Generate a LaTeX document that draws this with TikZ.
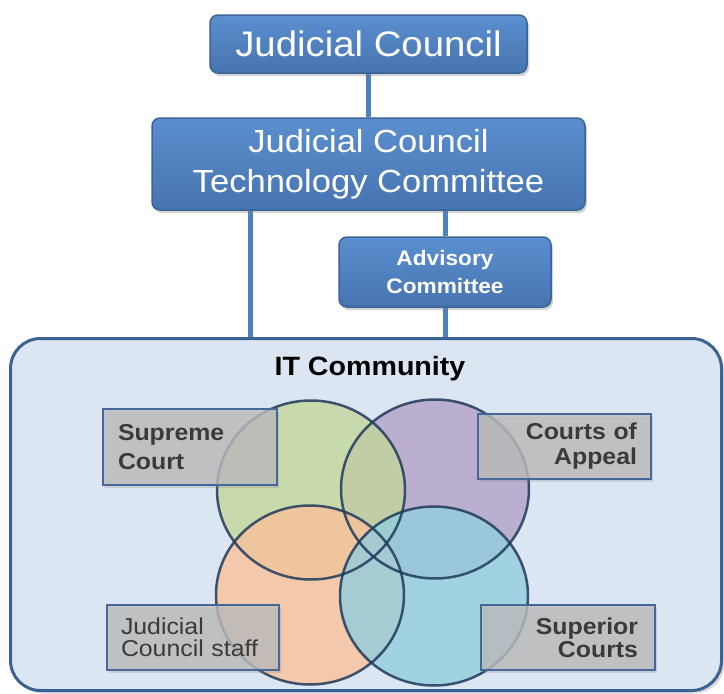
\documentclass[tikz,border=0pt]{standalone}
\usepackage{fontspec}
\setmainfont{Liberation Sans}[FakeStretch=1.08]
\usetikzlibrary{shadows,shapes.geometric}
\pgfdeclarelayer{background}
\pgfsetlayers{background,main}
\definecolor{boxtop}{HTML}{5B8FCF}
\definecolor{boxbot}{HTML}{4674B0}
\definecolor{boxedge}{HTML}{3A6496}
\definecolor{linkblue}{HTML}{4F81BD}
\definecolor{commfill}{HTML}{DCE6F2}
\definecolor{commedge}{HTML}{3A6293}
\definecolor{labfill}{HTML}{BDBDBD}
\definecolor{labedge}{HTML}{46679A}
\definecolor{labtext}{HTML}{3A3A3A}
\definecolor{vgreen}{HTML}{C3D69B}
\definecolor{vpurple}{HTML}{B3A2C7}
\definecolor{vorange}{HTML}{F9C19A}
\definecolor{vcyan}{HTML}{93CDDD}
\definecolor{vedge}{HTML}{1F3A5C}
\begin{document}
\begin{tikzpicture}[x=1pt,y=-1pt,
  mainbox/.style={draw=boxedge, line width=1.5pt, rounded corners=8pt,
    top color=boxtop, bottom color=boxbot, text=white, align=center, inner sep=0pt,
    drop shadow={shadow xshift=2pt, shadow yshift=-3pt, opacity=0.35}},
  link/.style={draw=linkblue, line width=5pt},
  lab/.style={draw=labedge, line width=1.5pt, fill=labfill, fill opacity=0.78, text opacity=1,
    text=labtext, inner sep=0pt, font=\bfseries\fontsize{23}{27}\selectfont,
    drop shadow={shadow xshift=2pt, shadow yshift=-3pt, opacity=0.25}},
  vshape/.style={ellipse, minimum width=188pt, minimum height=179pt, inner sep=0pt},
  vcirc/.style={vshape, fill opacity=0.8},
  vring/.style={vshape, draw=vedge, draw opacity=0.85, line width=2.5pt}]
\useasboundingbox (0,0) rectangle (724,694);

% main boxes
\node[mainbox, minimum width=317pt, minimum height=58pt,
  font=\fontsize{35.5}{40}\selectfont] (jc) at (368.5,44) {Judicial Council};
\node[mainbox, minimum width=433pt, minimum height=92pt,
  font=\fontsize{32}{40}\selectfont] (jctc) at (368.5,164) {Judicial Council\\Technology Committee};
\node[mainbox, minimum width=212pt, minimum height=70pt,
  font=\bfseries\fontsize{21}{28}\selectfont] (adv) at (445,272) {Advisory\\Committee};

\coordinate (xl) at (250,0);

\begin{pgfonlayer}{background}
% IT community container
\node[draw=commedge, line width=3pt, fill=commfill, rounded corners=30pt,
  minimum width=711pt, minimum height=352pt, inner sep=0pt,
  drop shadow={shadow xshift=3pt, shadow yshift=-3pt, opacity=0.3}] (itc) at (366,514.5) {};
% connectors
\path[link] (jc.south) -- (jctc.north);
\path[link] (jctc.south -| xl) -- (itc.north -| xl);
\path[link] (jctc.south -| adv.north) -- (adv.north);
\path[link] (adv.south) -- (itc.north -| adv.south);
\end{pgfonlayer}

\node[font=\bfseries\fontsize{26.5}{30}\selectfont, text=black] (itlabel) at (370,369) {IT Community};

% Venn circles: fills, then outlines
\node[vcirc, fill=vpurple] (ca) at (435,489) {};
\node[vcirc, fill=vgreen] (sc) at (311,490) {};
\node[vcirc, fill=vorange] (js) at (310,595) {};
\node[vcirc, fill=vcyan] (su) at (434,596) {};
\foreach \c in {ca,sc,js,su}{\node[vring] at (\c) {};}

% labels
\node[lab, minimum width=174pt, minimum height=76pt, text width=144pt, align=left,
  font=\bfseries\fontsize{23}{29}\selectfont] (scl) at (190,447) {Supreme\\Court};
\node[lab, minimum width=173pt, minimum height=65pt, text width=145pt, align=right,
  font=\bfseries\fontsize{23}{25}\selectfont] (cal) at (564.5,446.5) {Courts of\\Appeal};
\node[lab, minimum width=172pt, minimum height=65pt, text width=144pt, align=left,
  font=\fontsize{23}{22.5}\selectfont] (jsl) at (193,637.5) {Judicial\\Council staff};
\node[lab, minimum width=174pt, minimum height=65pt, text width=140pt, align=right,
  font=\bfseries\fontsize{23}{23}\selectfont] (sul) at (568,637.5) {Superior\\Courts};
\end{tikzpicture}
\end{document}
